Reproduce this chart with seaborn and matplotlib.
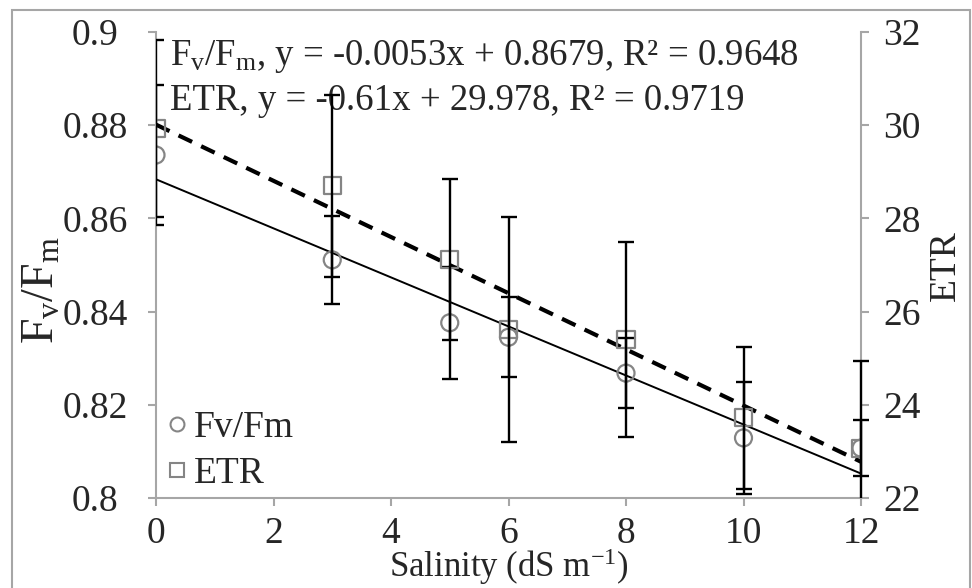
import numpy as np
import pandas as pd
import matplotlib
matplotlib.use("Agg")
import matplotlib.pyplot as plt
import seaborn as sns
from matplotlib.patches import Rectangle
from matplotlib.lines import Line2D
from matplotlib.ticker import FuncFormatter, FixedLocator

# ---------------- data ----------------
salinity = [0, 3, 5, 6, 8, 10, 12]
fvfm = [0.8736, 0.8511, 0.8376, 0.8345, 0.8268, 0.8129, 0.8107]
fvfm_err = [0.0150, 0.0094, 0.0120, 0.0086, 0.0075, 0.0120, 0.0060]
etr = [29.93, 28.70, 27.12, 25.62, 25.40, 23.72, 23.07]
etr_err = [1.89, 1.95, 1.73, 2.42, 2.10, 1.52, 1.87]

x_ticks = [0, 2, 4, 6, 8, 10, 12]
left_ticks = [0.80, 0.82, 0.84, 0.86, 0.88, 0.90]
right_ticks = [22, 24, 26, 28, 30, 32]

eq_fv = r"$\mathregular{F_v/F_m}$, y = -0.0053x + 0.8679, R² = 0.9648"
eq_etr = "ETR, y = -0.61x + 29.978, R² = 0.9719"

# ---------------- style ----------------
sns.set_style("white")
plt.rcParams["font.family"] = ["Liberation Serif", "DejaVu Serif"]
plt.rcParams["mathtext.fontset"] = "custom"
plt.rcParams["mathtext.rm"] = "Liberation Serif"
plt.rcParams["mathtext.it"] = "Liberation Serif:italic"
FS = 27
GRAY = "#a6a6a6"
MK = "#858585"

df = pd.DataFrame({"salinity": salinity, "fvfm": fvfm, "etr": etr})

fig = plt.figure(figsize=(9.72, 5.88), dpi=100)
W, H = 972, 588
L, R, T, B = 156, 861, 32, 498
ax = fig.add_axes([L / W, 1 - B / H, (R - L) / W, (B - T) / H])
ax2 = ax.twinx()

# markers
sns.scatterplot(data=df, x="salinity", y="fvfm", ax=ax, marker="o", s=150,
                facecolor="none", edgecolor=MK, linewidth=1.6, zorder=3, legend=False)
sns.scatterplot(data=df, x="salinity", y="etr", ax=ax2, marker="s", s=150,
                facecolor="none", edgecolor=MK, linewidth=1.6, zorder=3, legend=False)

# error bars
def clip_bars(cont, a):
    rect = Rectangle((0, 0), 1.03, 1.0, transform=a.transAxes, fill=False)
    for art in list(cont.lines[1]) + list(cont.lines[2]):
        art.set_clip_path(rect)

c1 = ax.errorbar(salinity, fvfm, yerr=fvfm_err, fmt="none", ecolor="black",
                 elinewidth=1.7, capsize=5.5, capthick=1.7, zorder=4)
c2 = ax2.errorbar(salinity, etr, yerr=etr_err, fmt="none", ecolor="black",
                  elinewidth=1.7, capsize=5.5, capthick=1.7, zorder=4)
clip_bars(c1, ax)
clip_bars(c2, ax2)

# trend lines
sns.regplot(data=df, x="salinity", y="fvfm", ax=ax, scatter=False, ci=None,
            truncate=True, color="black", line_kws=dict(lw=1.4, zorder=2))
sns.regplot(data=df, x="salinity", y="etr", ax=ax2, scatter=False, ci=None,
            truncate=True, color="black",
            line_kws=dict(lw=3.0, dashes=(3.6, 2.4), zorder=2))

# limits / ticks
ax.set_xlim(0, 12)
ax.set_ylim(0.8, 0.9)
ax2.set_ylim(22, 32)
ax.xaxis.set_major_locator(FixedLocator(x_ticks))
ax.yaxis.set_major_locator(FixedLocator(left_ticks))
ax2.yaxis.set_major_locator(FixedLocator(right_ticks))
ax.yaxis.set_major_formatter(FuncFormatter(lambda v, p: f"{v:g}"))
ax2.yaxis.set_major_formatter(FuncFormatter(lambda v, p: f"{v:g}"))

for a in (ax, ax2):
    for s in a.spines.values():
        s.set_color(GRAY)
        s.set_linewidth(1.5)
    a.spines["top"].set_visible(False)
ax.spines["right"].set_visible(False)
ax2.spines["left"].set_visible(False)
ax2.spines["bottom"].set_visible(False)

ax.tick_params(axis="x", direction="out", length=6, width=1.5, color=GRAY,
               labelsize=FS, pad=7, bottom=True)
ax.tick_params(axis="y", direction="out", length=6, width=1.5, color=GRAY,
               labelsize=FS, pad=38, left=True, right=False)
for t in ax.get_yticklabels():
    t.set_ha("center")
ax2.tick_params(axis="y", direction="out", length=6, width=1.5, color=GRAY,
                labelsize=FS, pad=10, right=True, left=False)

# axis titles
ax.set_xlabel(r"Salinity (dS m$^{\mathregular{-1}}$)", fontsize=25)
ax.set_ylabel(r"$\mathregular{F_v/F_m}$", fontsize=33)
ax2.set_ylabel("ETR", fontsize=FS, rotation=90)
ax.xaxis.set_label_coords(0.5, (B - 567) / (B - T))
ax.xaxis.label.set_va("center")
ax.yaxis.set_label_coords((42 - L) / (R - L), (B - 290) / (B - T))
ax.yaxis.label.set_va("center")
ax.yaxis.label.set_rotation_mode("default")
ax2.yaxis.set_label_coords((946 - L) / (R - L), (B - 266) / (B - T))
ax2.yaxis.label.set_va("center")
ax2.yaxis.label.set_rotation_mode("default")

# equations
ax.text((170 - L) / (R - L), (B - 65) / (B - T), eq_fv, fontsize=26.5,
        va="baseline", ha="left", transform=ax.transAxes)
ax.text((170 - L) / (R - L), (B - 110) / (B - T), eq_etr, fontsize=26.5,
        va="baseline", ha="left", transform=ax.transAxes)

# legend
handles = [
    Line2D([], [], marker="o", ls="none", mfc="none", mec=MK, mew=1.5, ms=10),
    Line2D([], [], marker="s", ls="none", mfc="none", mec=MK, mew=1.5, ms=10),
]
ax.legend(handles, ["Fv/Fm", "ETR"], loc="lower left",
          bbox_to_anchor=((164 - L) / (R - L), 7 / (B - T)), frameon=False,
          fontsize=FS, handlelength=0.7, handletextpad=0.1,
          borderpad=0.0, borderaxespad=0.0, labelspacing=0.3)

# chart-area border
fig.patches.append(Rectangle((12 / W, -0.01), (970 - 12) / W, 1 - 10 / H + 0.01,
                             transform=fig.transFigure, fill=False,
                             ec=GRAY, lw=1.5))

fig.savefig("out.png", dpi=100)
